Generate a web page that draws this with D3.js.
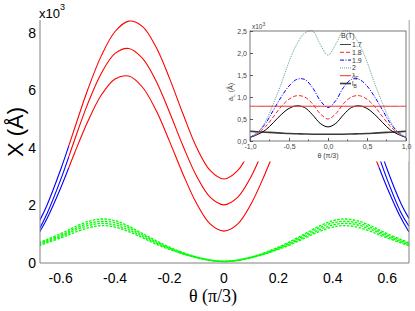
<!DOCTYPE html>
<html>
<head>
<meta charset="utf-8">
<script src="https://cdn.jsdelivr.net/npm/d3@7"></script>
<style>
  body { margin: 0; background: #fff; }
  svg { display: block; }
</style>
</head>
<body>
<div id="chart"></div>
<script>
// main plot data, theta in units of pi/3, X in units of 10^3 A
const theta = [-0.68, -0.65, -0.6, -0.57, -0.55, -0.5, -0.45, -0.4, -0.35, -0.3, -0.25, -0.2, -0.15, -0.1, -0.05, 0,
    0.05, 0.1, 0.15, 0.2, 0.25, 0.3, 0.35, 0.4, 0.45, 0.5, 0.55, 0.57, 0.6, 0.65, 0.68];
const curveA = [1.42, 2.02, 3.25, 4.08, 4.65, 6.04, 7.22, 8.05, 8.41, 8.23, 7.52, 6.42, 5.17, 4.01, 3.21, 2.92,
    3.21, 4.01, 5.17, 6.42, 7.52, 8.23, 8.41, 8.05, 7.22, 6.04, 4.65, 4.08, 3.25, 2.08, 1.55];
const curveB = [1.15, 1.72, 2.90, 3.70, 4.25, 5.55, 6.61, 7.29, 7.46, 7.12, 6.34, 5.24, 4.06, 3.01, 2.28, 2.02,
    2.28, 3.01, 4.06, 5.24, 6.34, 7.12, 7.46, 7.29, 6.61, 5.55, 4.25, 3.70, 2.90, 1.76, 1.28];
const curveC = [1.04, 1.55, 2.61, 3.32, 3.80, 4.93, 5.85, 6.40, 6.50, 6.12, 5.32, 4.23, 3.08, 2.06, 1.35, 1.11,
    1.35, 2.06, 3.08, 4.23, 5.32, 6.12, 6.50, 6.40, 5.85, 4.93, 3.80, 3.32, 2.61, 1.57, 1.08];
const green1 = [0.70, 0.82, 1.02, 1.15, 1.25, 1.44, 1.53, 1.47, 1.28, 1.03, 0.78, 0.55, 0.36, 0.21, 0.10, 0.06,
    0.10, 0.21, 0.36, 0.55, 0.78, 1.03, 1.28, 1.47, 1.53, 1.44, 1.25, 1.15, 1.02, 0.82, 0.70];
const green2 = [0.67, 0.78, 0.97, 1.09, 1.19, 1.37, 1.45, 1.40, 1.22, 0.98, 0.74, 0.52, 0.34, 0.20, 0.10, 0.06,
    0.10, 0.20, 0.34, 0.52, 0.74, 0.98, 1.22, 1.40, 1.45, 1.37, 1.19, 1.09, 0.97, 0.78, 0.67];
const green3 = [0.63, 0.74, 0.92, 1.04, 1.13, 1.30, 1.38, 1.32, 1.15, 0.93, 0.70, 0.50, 0.32, 0.19, 0.09, 0.05,
    0.09, 0.19, 0.32, 0.50, 0.70, 0.93, 1.15, 1.32, 1.38, 1.30, 1.13, 1.04, 0.92, 0.74, 0.63];
const green4 = [0.60, 0.70, 0.87, 0.98, 1.06, 1.22, 1.30, 1.25, 1.09, 0.88, 0.66, 0.47, 0.31, 0.18, 0.09, 0.05,
    0.09, 0.18, 0.31, 0.47, 0.66, 0.88, 1.09, 1.25, 1.30, 1.22, 1.06, 0.98, 0.87, 0.70, 0.60];
const blueEdge = 0.57; // beyond |theta| = 0.57 the curves are blue
const xTicks = [-0.6, -0.4, -0.2, 0, 0.2, 0.4, 0.6];
const yTicks = [0, 2, 4, 6, 8];

// inset data, a_L in units of 10^3 A
const insetX = [-1, -0.9, -0.8, -0.7, -0.6, -0.5, -0.4, -0.3, -0.2, -0.1, 0, 0.1, 0.2, 0.3, 0.4, 0.5, 0.6, 0.7, 0.8, 0.9, 1];
const b17 = [0.08, 0.15, 0.25, 0.42, 0.60, 0.74, 0.80, 0.76, 0.60, 0.40, 0.32, 0.40, 0.60, 0.76, 0.80, 0.74, 0.60, 0.42, 0.25, 0.15, 0.08];
const b18 = [0.08, 0.18, 0.33, 0.55, 0.78, 0.95, 1.03, 1.00, 0.85, 0.62, 0.50, 0.62, 0.85, 1.00, 1.03, 0.95, 0.78, 0.55, 0.33, 0.18, 0.08];
const b19 = [0.08, 0.20, 0.40, 0.70, 1.00, 1.25, 1.40, 1.40, 1.22, 0.92, 0.76, 0.92, 1.22, 1.40, 1.40, 1.25, 1.00, 0.70, 0.40, 0.20, 0.08];
const b20 = [0.08, 0.20, 0.45, 0.85, 1.30, 1.80, 2.20, 2.45, 2.50, 2.20, 1.95, 2.20, 2.50, 2.45, 2.20, 1.80, 1.30, 0.85, 0.45, 0.20, 0.08];
const lambdaF = [0.79, 0.79, 0.79, 0.79, 0.79, 0.79, 0.79, 0.79, 0.79, 0.79, 0.79, 0.79, 0.79, 0.79, 0.79, 0.79, 0.79, 0.79, 0.79, 0.79, 0.79];
const lB = [0.22, 0.21, 0.20, 0.19, 0.18, 0.17, 0.165, 0.16, 0.155, 0.155, 0.155, 0.155, 0.155, 0.16, 0.165, 0.17, 0.18, 0.19, 0.20, 0.21, 0.22];
const insetXTicks = [-1, -0.5, 0, 0.5, 1];
const insetYTicks = [0, 0.5, 1, 1.5, 2, 2.5];
const legendLabels = ["1.7", "1.8", "1.9", "2", "λ", "l"];
const legendSubs = ["", "", "", "", "F", "B"];

const W = 415, H = 311;
const svg = d3.select("#chart").append("svg")
    .attr("width", W)
    .attr("height", H)
    .style("font-family", "'Liberation Sans Narrow', 'Liberation Sans', Arial, sans-serif");

const x = d3.scaleLinear().domain([-0.676, 0.68]).range([40, 409]);
const y = d3.scaleLinear().domain([0, 8.45]).range([263, 20]);

svg.append("clipPath").attr("id", "mainClip")
    .append("rect").attr("x", 40).attr("y", 0).attr("width", 369).attr("height", 263);

const plot = svg.append("g").attr("clip-path", "url(#mainClip)");
const line = d3.line().x(d => x(d[0])).y(d => y(d[1])).curve(d3.curveCatmullRom);

// green dashed curves
[green1, green2, green3, green4].forEach(vals => {
    plot.append("path")
        .datum(theta.map((t, i) => [t, vals[i]]))
        .attr("fill", "none")
        .attr("stroke", "#00ff00")
        .attr("stroke-width", 1.3)
        .attr("stroke-dasharray", "2.6,1.3")
        .attr("d", line);
});

// red middle part, blue outer parts
[curveA, curveB, curveC].forEach(vals => {
    const pts = theta.map((t, i) => [t, vals[i]]);
    const parts = [
        { c: "#0000ff", d: pts.filter(p => p[0] <= -blueEdge) },
        { c: "#ff0000", d: pts.filter(p => Math.abs(p[0]) <= blueEdge) },
        { c: "#0000ff", d: pts.filter(p => p[0] >= blueEdge) }
    ];
    parts.forEach(p => {
        plot.append("path")
            .datum(p.d)
            .attr("fill", "none")
            .attr("stroke", p.c)
            .attr("stroke-width", 1.1)
            .attr("d", line);
    });
});

// axes: left, bottom, right (no ticks)
const axisCol = "#808080";
svg.append("line").attr("x1", 40).attr("x2", 40).attr("y1", y(8.45)).attr("y2", y(0)).attr("stroke", axisCol);
svg.append("line").attr("x1", 40).attr("x2", 409).attr("y1", y(0)).attr("y2", y(0)).attr("stroke", axisCol);
svg.append("line").attr("x1", 409).attr("x2", 409).attr("y1", y(8.45)).attr("y2", y(0)).attr("stroke", axisCol);

svg.selectAll(".xt").data(xTicks).enter().append("text")
    .attr("x", d => x(d))
    .attr("y", 283)
    .attr("text-anchor", "middle")
    .attr("font-size", 14)
    .text(d => d3.format("")(d).replace("−", "-"));

svg.selectAll(".yt").data(yTicks).enter().append("text")
    .attr("x", 36)
    .attr("y", d => y(d) + 5)
    .attr("text-anchor", "end")
    .attr("font-size", 14)
    .text(d => d);

svg.append("text").attr("x", 39).attr("y", 18).attr("font-size", 13).text("x10")
    .append("tspan").attr("dy", -8).attr("font-size", 9).text("3");

svg.append("text")
    .attr("transform", "translate(23,132) rotate(-90)")
    .attr("text-anchor", "middle")
    .attr("font-size", 22)
    .text("X (Å)");

svg.append("text")
    .attr("x", 213)
    .attr("y", 302)
    .attr("text-anchor", "middle")
    .attr("font-family", "'Liberation Serif', 'Times New Roman', serif")
    .attr("font-size", 18)
    .text("θ (π/3)");

// ---- inset ----
const inset = svg.append("g");
inset.append("rect").attr("x", 224).attr("y", 0).attr("width", 184.5).attr("height", 161.5).attr("fill", "#fff");

const xi = d3.scaleLinear().domain([-1, 1]).range([250, 406]);
const yi = d3.scaleLinear().domain([0, 2.5]).range([141, 31]);

svg.append("clipPath").attr("id", "insetClip")
    .append("rect").attr("x", 250).attr("y", 30).attr("width", 156).attr("height", 111);

const iline = d3.line().x(d => xi(d[0])).y(d => yi(d[1])).curve(d3.curveCatmullRom);
const insetSeries = [
    { v: lB, c: "#3a3a3a", w: 1.6, dash: null },
    { v: b17, c: "#000000", w: 1, dash: null },
    { v: b18, c: "#ff2020", w: 1, dash: "4,2" },
    { v: b19, c: "#0000ff", w: 1, dash: "4,1.5,1,1.5" },
    { v: b20, c: "#5f9e9e", w: 1, dash: "1,1" },
    { v: lambdaF, c: "#e83030", w: 1, dash: null }
];
const ig = inset.append("g").attr("clip-path", "url(#insetClip)");
insetSeries.forEach(s => {
    ig.append("path")
        .datum(insetX.map((t, i) => [t, s.v[i]]))
        .attr("fill", "none")
        .attr("stroke", s.c)
        .attr("stroke-width", s.w)
        .attr("stroke-dasharray", s.dash)
        .attr("d", iline);
});

// inset frame and ticks
inset.append("rect").attr("x", 250).attr("y", 31).attr("width", 156).attr("height", 110)
    .attr("fill", "none").attr("stroke", "#555").attr("stroke-width", 0.8);

const gx = inset.append("g").attr("transform", "translate(0,141)")
    .call(d3.axisBottom(xi).tickValues(insetXTicks).tickSize(-3).tickPadding(3).tickFormat(d => d3.format(".1f")(d).replace(".", ",").replace("−", "-")));
const gy = inset.append("g").attr("transform", "translate(250,0)")
    .call(d3.axisLeft(yi).tickValues(insetYTicks).tickSize(-3).tickPadding(3).tickFormat(d => d3.format(".1f")(d).replace(".", ",")));
[gx, gy].forEach(g => {
    g.select(".domain").remove();
    g.selectAll("line").attr("stroke", "#555");
    g.selectAll("text").attr("font-size", 7).attr("fill", "#444").attr("font-family", "'Liberation Sans', Arial, sans-serif");
});
// minor ticks
inset.selectAll(".mx").data([-0.75, -0.25, 0.25, 0.75]).enter().append("line")
    .attr("x1", d => xi(d)).attr("x2", d => xi(d)).attr("y1", 141).attr("y2", 139.5).attr("stroke", "#555");

inset.append("text").attr("x", 252).attr("y", 29).attr("font-size", 6.5).attr("fill", "#444")
    .attr("font-family", "'Liberation Sans', Arial, sans-serif").text("x10")
    .append("tspan").attr("dy", -3).attr("font-size", 5).text("3");

const ylab = inset.append("text")
    .attr("transform", "translate(233,92) rotate(-90)")
    .attr("text-anchor", "middle")
    .attr("font-size", 7)
    .attr("fill", "#444")
    .attr("font-family", "'Liberation Sans', Arial, sans-serif");
ylab.append("tspan").text("a");
ylab.append("tspan").attr("dy", 2).attr("font-size", 5).text("L");
ylab.append("tspan").attr("dy", -2).text(" (Å)");

inset.append("text").attr("x", 328).attr("y", 158).attr("text-anchor", "middle")
    .attr("font-size", 7).attr("fill", "#444")
    .attr("font-family", "'Liberation Sans', Arial, sans-serif")
    .text("θ (π/3)");

// legend
const leg = inset.append("g").attr("font-family", "'Liberation Sans', Arial, sans-serif").attr("font-size", 7).attr("fill", "#333");
leg.append("text").attr("x", 341).attr("y", 38).text("B(T)");
const legStyles = [insetSeries[1], insetSeries[2], insetSeries[3], insetSeries[4], insetSeries[5], insetSeries[0]];
legendLabels.forEach((lab, i) => {
    const ly = 44.5 + i * 7.8;
    leg.append("line").attr("x1", 340).attr("x2", 351).attr("y1", ly).attr("y2", ly)
        .attr("stroke", i === 0 ? "#444" : legStyles[i].c)
        .attr("stroke-width", legStyles[i].w)
        .attr("stroke-dasharray", legStyles[i].dash);
    const t = leg.append("text").attr("x", 352).attr("y", ly + 2.5).text(lab);
    if (legendSubs[i]) t.append("tspan").attr("dy", 1.5).attr("font-size", 5).text(legendSubs[i]);
});
</script>
</body>
</html>
